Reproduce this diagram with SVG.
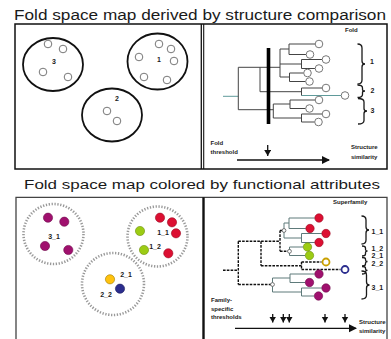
<svg xmlns="http://www.w3.org/2000/svg" width="391" height="339" viewBox="0 0 391 339">
  <defs>
    <style>
      text { font-family: "Liberation Sans", Arial, sans-serif; fill: #1a1a1a; }
      .title { font-size: 14px; }
      .lbl { font-size: 7px; font-weight: bold; }
      .sm { font-size: 6px; font-weight: bold; }
      .frame { fill: none; stroke: #111; stroke-width: 1.5; }
      .cl { fill: none; stroke: #111; stroke-width: 1.8; }
      .dcl { fill: none; stroke: #999; stroke-width: 2.6; stroke-dasharray: 1.3 1.6; }
      .mem { fill: #fff; stroke: #777; stroke-width: 1; }
      .br { fill: none; stroke: #444; stroke-width: 1; }
      .teal { fill: none; stroke: #5f9a9a; stroke-width: 1; }
      .sb { fill: none; stroke: #5e7a7a; stroke-width: 1; }
      .dash { fill: none; stroke: #111; stroke-width: 1.4; stroke-dasharray: 2.6 1.2; }
      .leaf { fill: #fff; stroke: #777; stroke-width: 1; }
      .mk { fill: #fff; stroke: #555; stroke-width: 0.8; }
      .brace { fill: none; stroke: #1a1a1a; stroke-width: 1.3; }
      .axis { fill: none; stroke: #111; stroke-width: 1.3; }
      .red { fill: #dc0f32; stroke: #9a0a22; stroke-width: 0.6; }
      .grn { fill: #9ccc14; stroke: #6b8f0c; stroke-width: 0.6; }
      .pur { fill: #a0106e; stroke: #6e0a4b; stroke-width: 0.6; }
    </style>
    <marker id="ah" markerWidth="9" markerHeight="9" refX="7" refY="4" orient="auto" markerUnits="userSpaceOnUse">
      <path d="M0,0 L8,4 L0,8 Z" fill="#111"/>
    </marker>
    <marker id="dh" markerWidth="8" markerHeight="8" refX="6" refY="3.5" orient="auto" markerUnits="userSpaceOnUse">
      <path d="M0,0 L6,3.5 L0,7 Z" fill="#111"/>
    </marker>
  </defs>

  <rect width="391" height="339" fill="#fff"/>

  <!-- ===== upper panel: fold space map from structure comparison ===== -->
  <text class="title" x="14" y="20" textLength="372" lengthAdjust="spacingAndGlyphs">Fold space map derived by structure comparison</text>
  <rect class="frame" x="15" y="24" width="372" height="145"/>
  <line x1="201.3" y1="24" x2="201.3" y2="169" stroke="#111" stroke-width="1.3"/>
  <line x1="203.7" y1="24" x2="203.7" y2="169" stroke="#111" stroke-width="1.1"/>

  <g id="fold3">
    <ellipse class="cl" cx="53" cy="64.5" rx="30" ry="26.5"/>
    <circle class="mem" cx="48" cy="44" r="3.8"/>
    <circle class="mem" cx="63" cy="49" r="3.8"/>
    <circle class="mem" cx="43" cy="72" r="3.8"/>
    <circle class="mem" cx="68" cy="77" r="3.8"/>
    <text class="lbl" x="54" y="63.5" text-anchor="middle">3</text>
  </g>
  <g id="fold1">
    <ellipse class="cl" cx="157.5" cy="61.5" rx="30" ry="28"/>
    <circle class="mem" cx="159" cy="44" r="3.8"/>
    <circle class="mem" cx="171" cy="49" r="3.8"/>
    <circle class="mem" cx="139" cy="57" r="3.8"/>
    <circle class="mem" cx="174" cy="61" r="3.8"/>
    <circle class="mem" cx="144" cy="77" r="3.8"/>
    <circle class="mem" cx="167" cy="80" r="3.8"/>
    <text class="lbl" x="159" y="61.5" text-anchor="middle">1</text>
  </g>
  <g id="fold2">
    <ellipse class="cl" cx="112" cy="115" rx="30" ry="26.5"/>
    <circle class="mem" cx="107" cy="111" r="3.8"/>
    <circle class="mem" cx="117" cy="121" r="3.8"/>
    <text class="lbl" x="117" y="100.5" text-anchor="middle">2</text>
  </g>

  <!-- structure dendrogram -->
  <g id="fold-tree">
    <path class="teal" d="M223,96.3 H238.3 M301.5,95.5 H341.2"/>
    <path class="br" d="M238.3,67.3 V109.7 M238.3,67.3 H280 M280,49 V77
      M280,49 H289 M289,44 V54.5 M289,44 H315.2 M289,54.5 H306.2
      M280,64 H301.5 M301.5,59.5 V68.5 M301.5,59.5 H322.2 M301.5,68.5 H315.2
      M280,77 H289.5 M289.5,73 V81.5 M289.5,73 H303.7 M289.5,81.5 H305.7
      M260,67.3 V91.7 M260,91.7 H301.5 M301.5,88 V95.5 M301.5,88 H322.2
      M238.3,109.7 H273.3 M273.3,104 V118
      M273.3,104 H290 M290,100 V108.5 M290,100 H315.2 M290,108.5 H305.7
      M273.3,118 H301.5 M301.5,114 V122 M301.5,114 H322.2 M301.5,122 H314.7"/>
    <g id="fold-leaves">
      <circle class="leaf" cx="319" cy="44" r="3.8"/>
      <circle class="leaf" cx="310" cy="54.5" r="3.8"/>
      <circle class="leaf" cx="326" cy="59.5" r="3.8"/>
      <circle class="leaf" cx="319" cy="68.5" r="3.8"/>
      <circle class="leaf" cx="307.5" cy="73" r="3.8"/>
      <circle class="leaf" cx="309.5" cy="81.5" r="3.8"/>
      <circle class="leaf" cx="326" cy="88" r="3.8"/>
      <circle class="leaf" cx="345" cy="95.5" r="3.8"/>
      <circle class="leaf" cx="319" cy="100" r="3.8"/>
      <circle class="leaf" cx="309.5" cy="108.5" r="3.8"/>
      <circle class="leaf" cx="326" cy="114" r="3.8"/>
      <circle class="leaf" cx="318.5" cy="122" r="3.8"/>
    </g>
    <rect id="fold-cut" x="266.7" y="48" width="3.6" height="76" fill="#000"/>
  </g>

  <g id="fold-braces">
    <text class="sm" x="345" y="32">Fold</text>
    <path class="brace" d="M357.5,44 Q362,44 362,48 L362,61 Q362,64 365,64 Q362,64 362,67 L362,80 Q362,84 357.5,84"/>
    <path class="brace" d="M357.5,85 Q362.5,85 362.5,88 L362.5,89.5 Q362.5,91 365,91 Q362.5,91 362.5,92.5 L362.5,94.5 Q362.5,97.5 357.5,97.5"/>
    <path class="brace" d="M358,98.5 Q364,98.5 364,102 L364,108.5 Q364,111 367,111 Q364,111 364,113.5 L364,120.5 Q364,124 358,124"/>
    <text class="lbl" x="370" y="63.5">1</text>
    <text class="lbl" x="370.5" y="93">2</text>
    <text class="lbl" x="370.5" y="112.5">3</text>
  </g>

  <g id="fold-axis">
    <text class="sm" x="210.5" y="145">Fold</text>
    <text class="sm" x="210.5" y="153.5">threshold</text>
    <path class="axis" d="M237,160 H329" marker-end="url(#ah)"/>
    <path class="axis" d="M267.7,145 V156" marker-end="url(#dh)"/>
    <text class="sm" x="351" y="148.5">Structure</text>
    <text class="sm" x="351" y="158.5">similarity</text>
  </g>

  <!-- ===== lower panel: fold space map coloured by function ===== -->
  <text class="title" x="24" y="189" style="font-size:13.5px" textLength="356" lengthAdjust="spacingAndGlyphs">Fold space map colored by functional attributes</text>
  <path d="M16,341 V197.3 H387 V341" fill="none" stroke="#444" stroke-width="1.3"/>
  <line x1="203.5" y1="197.3" x2="203.5" y2="339" stroke="#111" stroke-width="2.4"/>

  <g id="sf3_1">
    <circle class="dcl" cx="53.5" cy="234" r="30"/>
    <circle class="pur" cx="48" cy="217.7" r="4.6"/>
    <circle class="pur" cx="64.3" cy="221.7" r="4.6"/>
    <circle class="pur" cx="45" cy="246" r="4.6"/>
    <circle class="pur" cx="68.3" cy="250" r="4.6"/>
    <text class="lbl" x="54" y="239" text-anchor="middle">3_1</text>
  </g>
  <g id="sf1">
    <circle class="dcl" cx="157.5" cy="236.5" r="30"/>
    <circle class="red" cx="160" cy="217.7" r="4.6"/>
    <circle class="red" cx="172" cy="222.3" r="4.6"/>
    <circle class="red" cx="176" cy="233.3" r="4.6"/>
    <circle class="red" cx="168.3" cy="253.3" r="4.6"/>
    <circle class="grn" cx="140" cy="231" r="4.6"/>
    <circle class="grn" cx="144" cy="250" r="4.6"/>
    <text class="lbl" x="163" y="234.5" text-anchor="middle">1_1</text>
    <text class="lbl" x="155" y="248.5" text-anchor="middle">1_2</text>
  </g>
  <g id="sf2">
    <circle class="dcl" cx="113" cy="284" r="31"/>
    <circle cx="110" cy="279.3" r="4.6" fill="#ffc20e" stroke="#a07a00" stroke-width="0.6"/>
    <circle cx="120" cy="288.7" r="4.6" fill="#2b2d8e" stroke="#1a1a5a" stroke-width="0.6"/>
    <text class="lbl" x="126" y="276.5" text-anchor="middle">2_1</text>
    <text class="lbl" x="106" y="297" text-anchor="middle">2_2</text>
  </g>

  <!-- family dendrogram -->
  <g id="family-tree">
    <path class="sb" d="M284,223 V238 M284,223 H289 M289,218 V228.5 M289,218 H314.8 M289,228.5 H305.8
      M284,238 H301.5 M301.5,233.5 V242.5 M301.5,233.5 H321.8 M301.5,242.5 H314.8
      M289.5,247 V255.5 M289.5,247 H303.3 M289.5,255.5 H305.3
      M272.5,278 V292 M272.5,278 H290 M290,274 V282.5 M290,274 H314.8 M290,282.5 H305.3
      M272.5,292 H301.5 M301.5,288 V296 M301.5,288 H321.8 M301.5,296 H314.3"/>
    <path class="dash" d="M223,270.3 H238.3 M238.3,241.3 V284.5 M238.3,241.3 H280
      M280,230.5 V251.3 M280,230.5 H284 M280,251.3 H289.5
      M261,241.3 V265.7 M261,265.7 H301.5 M301.5,262 V269.5
      M301.5,262 H321.5 M301.5,269.5 H340.5 M238.3,284.5 H272.5"/>
    <circle class="mk" cx="284" cy="230.5" r="1.9"/>
    <circle class="mk" cx="289.5" cy="251.3" r="1.9"/>
    <circle class="mk" cx="272.5" cy="284.5" r="1.9"/>
    <g id="family-leaves">
      <circle class="red" cx="319" cy="218" r="4.2"/>
      <circle class="red" cx="310" cy="228.5" r="4.2"/>
      <circle class="red" cx="326" cy="233.5" r="4.2"/>
      <circle class="red" cx="319" cy="242.5" r="4.2"/>
      <circle class="grn" cx="307.5" cy="247" r="4.2"/>
      <circle class="grn" cx="309.5" cy="255.5" r="4.2"/>
      <circle cx="326" cy="262" r="3.5" fill="#fff" stroke="#c9a000" stroke-width="1.8"/>
      <circle cx="345" cy="269.5" r="3.5" fill="#fff" stroke="#2b2d8e" stroke-width="1.8"/>
      <circle class="pur" cx="319" cy="274" r="4.2"/>
      <circle class="pur" cx="309.5" cy="282.5" r="4.2"/>
      <circle class="pur" cx="326" cy="288" r="4.2"/>
      <circle class="pur" cx="318.5" cy="296" r="4.2"/>
    </g>
  </g>

  <g id="family-braces">
    <text class="sm" x="333" y="204">Superfamily</text>
    <path class="brace" d="M361.5,216 Q366,216 366,220 L366,227 Q366,230 369,230 Q366,230 366,233 L366,240 Q366,244 361.5,244"/>
    <path class="brace" d="M362,246 Q365.5,246 365.5,248 L365.5,249.5 Q365.5,251 367.5,251 Q365.5,251 365.5,252.5 L365.5,254 Q365.5,256 362,256"/>
    <path class="brace" d="M362,257.5 Q365.5,257.5 365.5,259 L365.5,260 Q365.5,261.5 367.5,261.5 Q365.5,261.5 365.5,263 L365.5,264 Q365.5,266 362,266"/>
    <path class="brace" d="M362,266.5 Q365.5,266.5 365.5,268 L365.5,269 Q365.5,270.3 367.5,270.3 Q365.5,270.3 365.5,271.6 L365.5,272.5 Q365.5,274 362,274"/>
    <path class="brace" d="M361.5,271 Q366.5,271 366.5,275 L366.5,282 Q366.5,285 369.5,285 Q366.5,285 366.5,288 L366.5,295 Q366.5,299 361.5,299"/>
    <text class="lbl" x="371.5" y="234">1_1</text>
    <text class="lbl" x="371.5" y="251">1_2</text>
    <text class="lbl" x="371.5" y="258">2_1</text>
    <text class="lbl" x="371.5" y="265.5">2_2</text>
    <text class="lbl" x="371.5" y="289.5">3_1</text>
  </g>

  <g id="family-axis">
    <text class="sm" x="211" y="302">Family-</text>
    <text class="sm" x="211" y="310.5">specific</text>
    <text class="sm" x="211" y="319">thresholds</text>
    <path class="axis" d="M235,328.3 H356" marker-end="url(#ah)"/>
    <path class="axis" d="M272.7,314 V322.5" marker-end="url(#dh)"/>
    <path class="axis" d="M283.3,314 V322.5" marker-end="url(#dh)"/>
    <path class="axis" d="M289.3,314 V322.5" marker-end="url(#dh)"/>
    <path class="axis" d="M325,314 V322.5" marker-end="url(#dh)"/>
    <path class="axis" d="M345,314 V322.5" marker-end="url(#dh)"/>
    <text class="sm" x="359" y="323.5">Structure</text>
    <text class="sm" x="359" y="332.5">similarity</text>
  </g>
</svg>
